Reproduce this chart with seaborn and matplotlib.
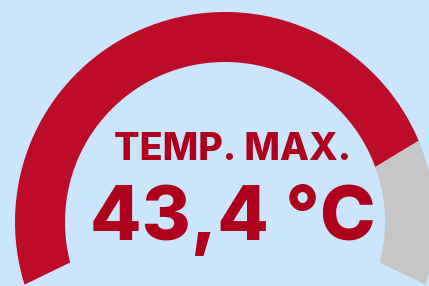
import numpy as np
import matplotlib
matplotlib.use("Agg")
import matplotlib.pyplot as plt
import seaborn as sns
from matplotlib.patches import Polygon

# gauge data
value = 43.4
gauge_min = 0.0
gauge_max = 52.7
label = "TEMP. MAX."
unit = "°C"

# colours
bg_color = "#CBE5FD"
fill_color = "#BC0C28"
rest_color = "#C5C5C5"
text_color = "#AE001D"

sns.set_theme(style="white")
plt.rcParams["font.family"] = ["Inter", "DejaVu Sans"]

W, H = 429, 286
fig = plt.figure(figsize=(W / 100, H / 100), dpi=100)
fig.patch.set_facecolor(bg_color)
ax = fig.add_axes([0, 0, 1, 1])
ax.set_facecolor(bg_color)
ax.set_xlim(0, W)
ax.set_ylim(H, 0)
ax.axis("off")

# layout of the gauge (pixel space)
cx, cy = 225, 222
r_out, r_in = 210, 160
start_deg, end_deg = 196.0, -16.0
skew = 2.7  # end caps are cut slightly off radial


def to_angle(v):
    frac = (v - gauge_min) / (gauge_max - gauge_min)
    return start_deg + frac * (end_deg - start_deg)


def band(a0, a1, s0, s1, color):
    n = 120
    outer = np.radians(np.linspace(a0 + s0 / 2, a1 + s1 / 2, n))
    inner = np.radians(np.linspace(a1 - s1 / 2, a0 - s0 / 2, n))
    xs = np.concatenate([cx + r_out * np.cos(outer), cx + r_in * np.cos(inner)])
    ys = np.concatenate([cy - r_out * np.sin(outer), cy - r_in * np.sin(inner)])
    ax.add_patch(Polygon(np.column_stack([xs, ys]), closed=True,
                         facecolor=color, edgecolor="none"))


a_val = to_angle(value)
band(start_deg, a_val, skew, skew, fill_color)
band(a_val, end_deg, skew, -skew, rest_color)

ax.text(232.5, 160, label, ha="center", va="baseline", fontsize=27.2,
        fontweight="extra bold", color=text_color)
value_txt = f"{value:.1f}".replace(".", ",") + " " + unit
ax.text(232.5, 240, value_txt, ha="center", va="baseline", fontsize=54,
        fontweight="extra bold", color=text_color)

fig.savefig("out.png", dpi=100, facecolor=bg_color)
